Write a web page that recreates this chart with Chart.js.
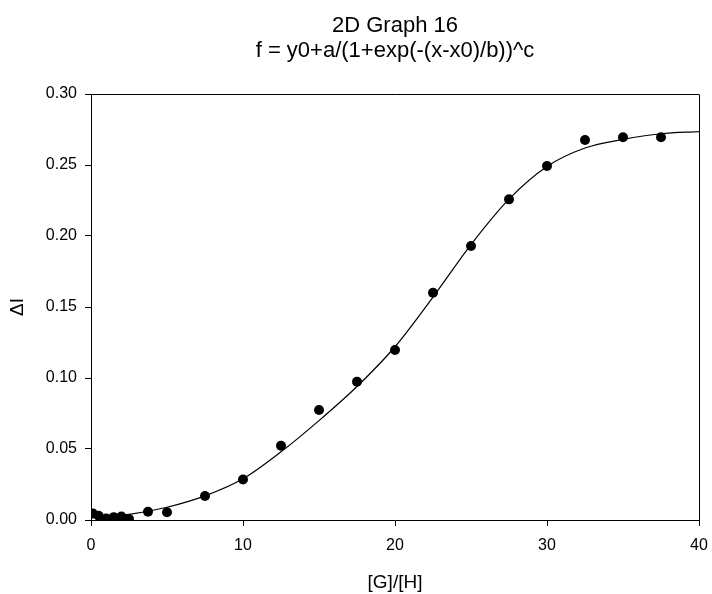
<!DOCTYPE html>
<html lang="en">
<head>
    <meta charset="UTF-8">
    <title>2D Graph 16</title>
    <style>
        body { margin: 0; background: #fff; }
        canvas { display: block; }
    </style>
    <script src="https://cdn.jsdelivr.net/npm/chart.js@4.4.2/dist/chart.umd.min.js"></script>
</head>
<body>
    <canvas id="graph" width="712" height="594"></canvas>

    <script>
        // measured points ([G]/[H] vs ΔI)
        const xData = [0.125, 0.5, 1.0, 1.5, 2.0, 2.5, 3.75, 5, 7.5, 10, 12.5, 15, 17.5, 20, 22.5, 25, 27.5, 30, 32.5, 35, 37.5];
        const yData = [0.0045, 0.003, 0.001, 0.002, 0.0025, 0.0007, 0.0058, 0.0054, 0.0169, 0.0285, 0.0523, 0.0775, 0.0974, 0.1197, 0.160, 0.193, 0.2258, 0.2493, 0.2676, 0.2695, 0.2695];

        // fitted curve
        const fitX = [0, 2.5, 5, 7.5, 10, 12.5, 15, 17.5, 20, 22.5, 25, 27.5, 30, 32.5, 35, 37.5, 40];
        const fitY = [0.002, 0.004, 0.009, 0.017, 0.029, 0.048, 0.070, 0.094, 0.122, 0.157, 0.194, 0.226, 0.249, 0.262, 0.268, 0.272, 0.2735];

        // axis ticks
        const xTicks = [0, 10, 20, 30, 40];
        const yTicks = [0, 0.05, 0.10, 0.15, 0.20, 0.25, 0.30];
        const yTickLabels = ['0.00', '0.05', '0.10', '0.15', '0.20', '0.25', '0.30'];

        const titleLines = ['2D Graph 16', 'f = y0+a/(1+exp(-(x-x0)/b))^c'];

        Chart.defaults.font.family = '"Liberation Sans", Arial, sans-serif';
        Chart.defaults.color = '#000';

        // top and right edge of the frame
        const frame = {
            id: 'frame',
            afterDraw(chart) {
                const { ctx, chartArea: a } = chart;
                ctx.save();
                ctx.strokeStyle = '#000';
                ctx.lineWidth = 1;
                ctx.beginPath();
                ctx.moveTo(a.left, Math.round(a.top) + 0.5);
                ctx.lineTo(Math.round(a.right) + 0.5, Math.round(a.top) + 0.5);
                ctx.lineTo(Math.round(a.right) + 0.5, a.bottom);
                ctx.stroke();
                ctx.restore();
            }
        };

        new Chart(document.getElementById('graph'), {
            type: 'scatter',
            data: {
                datasets: [
                    {
                        type: 'line',
                        data: fitX.map((x, i) => ({ x: x, y: fitY[i] })),
                        borderColor: '#000',
                        borderWidth: 1.2,
                        pointRadius: 0,
                        cubicInterpolationMode: 'monotone',
                        fill: false
                    },
                    {
                        data: xData.map((x, i) => ({ x: x, y: yData[i] })),
                        backgroundColor: '#000',
                        borderColor: '#000',
                        pointRadius: 5,
                        borderWidth: 0
                    }
                ]
            },
            options: {
                responsive: false,
                animation: false,
                layout: { padding: { left: 0, right: 13, top: 0, bottom: 0 } },
                plugins: {
                    legend: { display: false },
                    tooltip: { enabled: false },
                    title: {
                        display: true,
                        fullSize: false,
                        text: titleLines,
                        color: '#000',
                        font: { size: 22, weight: 'normal', lineHeight: 1.15 },
                        padding: { top: 13, bottom: 30.4 }
                    }
                },
                scales: {
                    x: {
                        type: 'linear',
                        min: 0,
                        max: 40,
                        afterBuildTicks: s => { s.ticks = xTicks.map(v => ({ value: v })); },
                        // fixed axis height, and no extra side padding for the end labels
                        afterFit: s => { s.height = 74; s.paddingLeft = 0; s.paddingRight = 0; },
                        ticks: { font: { size: 16 }, padding: 10, maxRotation: 0 },
                        grid: { drawOnChartArea: false, drawTicks: true, tickLength: 6, color: '#000' },
                        border: { display: true, color: '#000', width: 1 },
                        title: { display: true, text: '[G]/[H]', font: { size: 19 }, padding: { top: 0, bottom: 0 } }
                    },
                    y: {
                        type: 'linear',
                        min: 0,
                        max: 0.3,
                        afterBuildTicks: s => { s.ticks = yTicks.map(v => ({ value: v })); },
                        afterFit: s => { s.width = 91; },
                        ticks: { font: { size: 16 }, padding: 8, callback: (v, i) => yTickLabels[i] },
                        grid: { drawOnChartArea: false, drawTicks: true, tickLength: 6, color: '#000' },
                        border: { display: true, color: '#000', width: 1 },
                        title: { display: true, text: 'ΔI', font: { size: 19 }, padding: { top: 6, bottom: 0 } }
                    }
                }
            },
            plugins: [frame]
        });
    </script>
</body>
</html>
